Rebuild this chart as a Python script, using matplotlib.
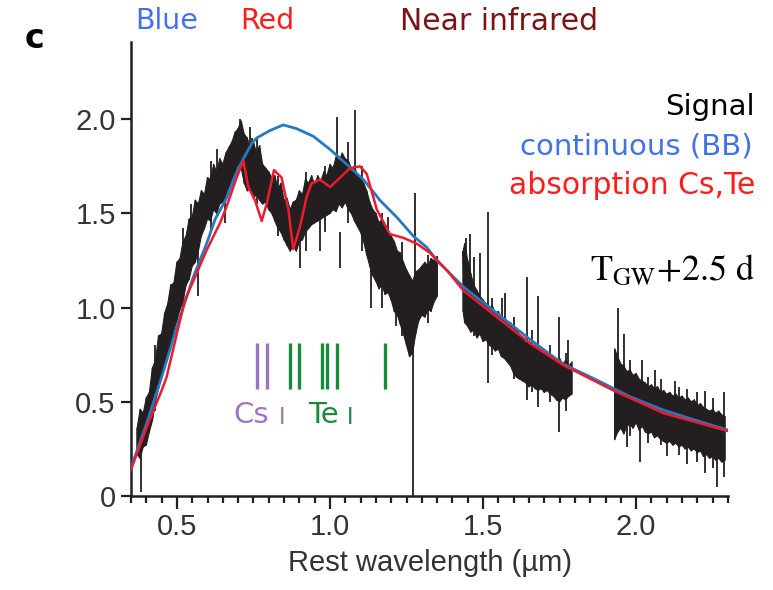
import numpy as np
import matplotlib
matplotlib.use('Agg')
import matplotlib.pyplot as plt

nan = np.nan

# ---------------- data ----------------
# Observed spectrum ("Signal"): lower / upper envelope of the noisy trace
sig_wl = [0.37, 0.38, 0.39, 0.40, 0.41, 0.42, 0.43, 0.44, 0.45, 0.46,
          0.47, 0.48, 0.49, 0.50, 0.51, 0.52, 0.53, 0.54, 0.55, 0.56,
          0.57, 0.58, 0.59, 0.60, 0.61, 0.62, 0.63, 0.64, 0.65, 0.66,
          0.67, 0.68, 0.69, 0.70, 0.71, 0.72, 0.73, 0.74, 0.75, 0.76,
          0.77, 0.78, 0.79, 0.80, 0.81, 0.82, 0.83, 0.84, 0.85, 0.86,
          0.87, 0.88, 0.89, 0.90, 0.91, 0.92, 0.93, 0.94, 0.95, 0.96,
          0.97, 0.98, 0.99, 1.00, 1.01, 1.02, 1.03, 1.04, 1.05, 1.06,
          1.07, 1.08, 1.09, 1.10, 1.11, 1.12, 1.13, 1.14, 1.15, 1.16,
          1.17, 1.18, 1.19, 1.20, 1.21, 1.22, 1.23, 1.24, 1.25, 1.26,
          1.27, 1.28, 1.29, 1.30, 1.31, 1.32, 1.33, 1.34, 1.35,
          1.39,
          1.435, 1.44, 1.45, 1.46, 1.47, 1.48, 1.49, 1.50, 1.51, 1.52,
          1.53, 1.54, 1.55, 1.56, 1.57, 1.58, 1.59, 1.60, 1.61, 1.62,
          1.63, 1.64, 1.65, 1.66, 1.67, 1.68, 1.69, 1.70, 1.71, 1.72,
          1.73, 1.74, 1.75, 1.76, 1.77, 1.78, 1.79,
          1.86,
          1.93, 1.94, 1.95, 1.96, 1.97, 1.98, 1.99, 2.00, 2.01, 2.02,
          2.03, 2.04, 2.05, 2.06, 2.07, 2.08, 2.09, 2.10, 2.11, 2.12,
          2.13, 2.14, 2.15, 2.16, 2.17, 2.18, 2.19, 2.20, 2.21, 2.22,
          2.23, 2.24, 2.25, 2.26, 2.27, 2.28, 2.29]
sig_lo = [0.22, 0.20, 0.26, 0.27, 0.34, 0.40, 0.50, 0.57, 0.64, 0.68,
          0.77, 0.80, 0.88, 0.93, 0.99, 1.03, 1.12, 1.15, 1.22, 1.24,
          1.30, 1.38, 1.42, 1.47, 1.46, 1.52, 1.50, 1.55, 1.56, 1.60,
          1.64, 1.68, 1.72, 1.76, 1.74, 1.66, 1.62, 1.63, 1.58, 1.60,
          1.57, 1.55, 1.56, 1.52, 1.50, 1.46, 1.42, 1.40, 1.36, 1.33,
          1.30, 1.33, 1.30, 1.35, 1.36, 1.40, 1.42, 1.44, 1.45, 1.46,
          1.47, 1.48, 1.49, 1.50, 1.52, 1.51, 1.55, 1.53, 1.56, 1.52,
          1.50, 1.46, 1.43, 1.40, 1.35, 1.28, 1.22, 1.17, 1.14, 1.10,
          1.12, 1.07, 1.08, 1.04, 0.98, 0.96, 0.91, 0.86, 0.80, 0.74,
          0.76, 0.86, 0.93, 0.96, 0.95, 0.99, 0.98, 1.03, 1.06,
          nan,
          0.98, 0.92, 0.90, 0.87, 0.88, 0.84, 0.86, 0.82, 0.83, 0.80,
          0.79, 0.77, 0.78, 0.74, 0.73, 0.71, 0.69, 0.65, 0.63, 0.62,
          0.61, 0.60, 0.58, 0.59, 0.57, 0.56, 0.57, 0.55, 0.56, 0.54,
          0.53, 0.51, 0.50, 0.52, 0.51, 0.53, 0.54,
          nan,
          0.30, 0.34, 0.36, 0.33, 0.37, 0.38, 0.36, 0.39, 0.35, 0.37,
          0.34, 0.33, 0.34, 0.31, 0.32, 0.30, 0.29, 0.28, 0.29, 0.27,
          0.28, 0.26, 0.27, 0.25, 0.26, 0.24, 0.25, 0.23, 0.24, 0.21,
          0.22, 0.20, 0.21, 0.19, 0.20, 0.18, 0.19]
sig_hi = [0.36, 0.46, 0.44, 0.52, 0.55, 0.68, 0.72, 0.85, 0.86, 0.97,
          1.02, 1.12, 1.13, 1.24, 1.26, 1.35, 1.38, 1.47, 1.48, 1.57,
          1.55, 1.62, 1.60, 1.69, 1.68, 1.76, 1.72, 1.79, 1.76, 1.82,
          1.85, 1.88, 1.93, 1.95, 1.99, 1.92, 1.90, 1.84, 1.88, 1.82,
          1.86, 1.76, 1.74, 1.72, 1.69, 1.70, 1.63, 1.66, 1.57, 1.58,
          1.52, 1.56, 1.57, 1.62, 1.60, 1.68, 1.66, 1.70, 1.65, 1.70,
          1.67, 1.72, 1.70, 1.76, 1.74, 1.80, 1.78, 1.82, 1.79, 1.78,
          1.74, 1.75, 1.70, 1.69, 1.66, 1.62, 1.56, 1.52, 1.50, 1.45,
          1.47, 1.42, 1.40, 1.38, 1.35, 1.30, 1.29, 1.24, 1.20, 1.17,
          1.14, 1.19, 1.20, 1.22, 1.24, 1.22, 1.26, 1.25, 1.27,
          nan,
          1.30, 1.34, 1.25, 1.18, 1.12, 1.09, 1.06, 1.04, 1.02, 1.00,
          1.01, 0.97, 0.98, 0.94, 0.95, 0.91, 0.92, 0.88, 0.89, 0.85,
          0.84, 0.81, 0.82, 0.79, 0.80, 0.77, 0.78, 0.75, 0.76, 0.73,
          0.74, 0.71, 0.73, 0.70, 0.72, 0.69, 0.71,
          nan,
          0.78, 0.74, 0.70, 0.69, 0.66, 0.67, 0.64, 0.65, 0.62, 0.61,
          0.60, 0.58, 0.59, 0.57, 0.58, 0.55, 0.56, 0.54, 0.55, 0.53,
          0.54, 0.52, 0.53, 0.51, 0.52, 0.50, 0.51, 0.48, 0.49, 0.47,
          0.46, 0.45, 0.46, 0.44, 0.45, 0.43, 0.42]

# Isolated spikes of the noisy spectrum (wavelength, bottom, top)
spike_wl = [0.382, 0.430, 0.520, 0.545, 0.570, 0.610, 0.630, 0.657, 0.706, 0.740,
            0.745, 0.760, 0.830, 0.902, 0.920, 0.967, 0.985, 1.022, 1.033, 1.060,
            1.082, 1.105, 1.135, 1.170, 1.190, 1.215, 1.235, 1.272, 1.277, 1.320,
            1.443, 1.456, 1.470, 1.490, 1.517, 1.530, 1.561, 1.573, 1.600, 1.645,
            1.660, 1.681, 1.720, 1.748, 1.770, 1.777, 1.942, 1.959, 1.970, 1.980,
            2.013, 2.018, 2.040, 2.062, 2.080, 2.100, 2.127, 2.140, 2.166, 2.200,
            2.225, 2.250, 2.264, 2.288]
spike_lo = [0.02, 0.45, 1.00, 1.30, 1.06, 1.40, 1.60, 1.45, 1.85, 1.75,
            1.70, 1.55, 1.38, 1.21, 1.30, 1.30, 1.40, 1.60, 1.21, 1.45,
            1.60, 1.30, 1.00, 1.00, 1.30, 0.90, 0.85, 0.00, 1.10, 0.92,
            1.00, 1.00, 0.85, 1.00, 0.60, 0.75, 0.85, 0.85, 0.62, 0.51,
            0.55, 0.47, 0.50, 0.34, 0.45, 0.60, 0.60, 0.60, 0.26, 0.32,
            0.18, 0.55, 0.28, 0.50, 0.27, 0.21, 0.45, 0.22, 0.17, 0.18,
            0.12, 0.15, 0.05, 0.10]
spike_hi = [0.40, 0.80, 1.42, 1.55, 1.40, 1.78, 1.84, 1.70, 2.00, 1.96,
            1.90, 1.90, 1.70, 1.40, 1.72, 1.50, 1.75, 2.01, 1.40, 1.88,
            2.05, 1.75, 1.30, 1.50, 1.48, 1.10, 1.35, 1.00, 1.61, 1.28,
            1.37, 1.39, 1.27, 1.29, 1.51, 1.05, 1.05, 1.08, 0.95, 1.16,
            0.88, 1.06, 0.80, 0.95, 0.76, 0.83, 1.00, 0.86, 0.50, 0.72,
            0.45, 0.72, 0.63, 0.67, 0.62, 0.40, 0.61, 0.58, 0.57, 0.55,
            0.56, 0.52, 0.30, 0.55]

# Continuous black-body model
bb_wl = [0.350, 0.400, 0.450, 0.500, 0.553, 0.597, 0.625, 0.662, 0.690, 0.717,
         0.744, 0.760, 0.804, 0.847, 0.891, 0.945, 1.000, 1.055, 1.109, 1.163,
         1.218, 1.272, 1.316, 1.349, 1.436, 1.545, 1.654, 1.762, 1.872, 1.980,
         2.089, 2.198, 2.300]
bb_flux = [0.15, 0.38, 0.63, 0.90, 1.16, 1.34, 1.47, 1.58, 1.70, 1.79,
           1.87, 1.90, 1.94, 1.97, 1.95, 1.91, 1.84, 1.76, 1.68, 1.57,
           1.48, 1.38, 1.32, 1.25, 1.11, 0.97, 0.83, 0.70, 0.615, 0.527,
           0.456, 0.40, 0.35]

# Model with Cs, Te absorption
abs_wl = [0.350, 0.400, 0.450, 0.466, 0.526, 0.564, 0.597, 0.641, 0.662, 0.695,
          0.717, 0.733, 0.755, 0.777, 0.793, 0.817, 0.842, 0.864, 0.880, 0.902,
          0.924, 0.940, 0.967, 1.000, 1.033, 1.065, 1.098, 1.120, 1.153, 1.196,
          1.240, 1.283, 1.327, 1.381, 1.436, 1.545, 1.654, 1.762, 1.926, 2.089,
          2.300]
abs_flux = [0.14, 0.36, 0.56, 0.63, 1.04, 1.18, 1.305, 1.45, 1.535, 1.69,
            1.78, 1.64, 1.57, 1.46, 1.55, 1.73, 1.69, 1.52, 1.31, 1.43,
            1.59, 1.66, 1.68, 1.64, 1.69, 1.74, 1.75, 1.71, 1.52, 1.39,
            1.37, 1.34, 1.29, 1.20, 1.09, 0.95, 0.81, 0.695, 0.56, 0.44,
            0.345]

# Line identifications
cs_lines = [0.760, 0.795]
te_lines = [0.869, 0.900, 0.973, 0.989, 1.024, 1.180]

xticks = [0.5, 1.0, 1.5, 2.0]
xtick_labels = ['0.5', '1.0', '1.5', '2.0']
yticks = [0, 0.5, 1.0, 1.5, 2.0]
ytick_labels = ['0', '0.5', '1.0', '1.5', '2.0']

# ---------------- styles ----------------
BLACK = '#231f20'
BB_BLUE = '#2878bd'
ABS_RED = '#ec1c2c'
TXT_BLUE = '#4272e8'
TXT_RED = '#ff1c1c'
TXT_DARKRED = '#7d1414'
CS_PURPLE = '#9d74c4'
TE_GREEN = '#178a3c'

plt.rcParams['font.family'] = ['Liberation Sans', 'DejaVu Sans']
plt.rcParams['mathtext.fontset'] = 'stix'

fig = plt.figure(figsize=(7.73, 5.90), dpi=100)
ax = fig.add_axes([131 / 773, 94 / 590, 597 / 773, 454 / 590])

sw = np.array(sig_wl)
slo = np.array(sig_lo)
shi = np.array(sig_hi)
ax.fill_between(sw, slo, shi, color=BLACK, lw=0.8, edgecolor=BLACK, zorder=2)
# zig-zag strokes between the envelope values to give the noisy texture
zig_x = np.repeat(sw, 2)
zig_y = np.column_stack([slo, shi]).ravel()
ax.plot(zig_x, zig_y, color=BLACK, lw=1.0, zorder=2)
ax.vlines(spike_wl, spike_lo, spike_hi, color=BLACK, lw=1.3, zorder=2)

ax.plot(bb_wl, bb_flux, color=BB_BLUE, lw=2.0, zorder=3)
ax.plot(abs_wl, abs_flux, color=ABS_RED, lw=1.8, zorder=4)

ax.vlines(cs_lines, 0.566, 0.813, color=CS_PURPLE, lw=2.4, zorder=3)
ax.vlines(te_lines, 0.566, 0.813, color=TE_GREEN, lw=2.4, zorder=3)

ax.text(0.742, 0.43, 'Cs', color=CS_PURPLE, fontsize=21, ha='center', va='center',
        family='DejaVu Sans')
ax.text(0.845, 0.415, 'I', color=CS_PURPLE, fontsize=17, ha='center', va='center',
        family='Liberation Sans')
ax.text(0.977, 0.43, 'Te', color=TE_GREEN, fontsize=21, ha='center', va='center',
        family='DejaVu Sans')
ax.text(1.067, 0.415, 'I', color=TE_GREEN, fontsize=17, ha='center', va='center',
        family='Liberation Sans')

ax.set_xlim(0.35, 2.30)
ax.set_ylim(0, 2.41)
ax.set_xticks(xticks)
ax.set_xticklabels(xtick_labels)
ax.set_xticks(np.arange(0.35, 2.301, 0.05), minor=True)
ax.set_yticks(yticks)
ax.set_yticklabels(ytick_labels)

for s in ['top', 'right']:
    ax.spines[s].set_visible(False)
for s in ['left', 'bottom']:
    ax.spines[s].set_linewidth(1.8)
    ax.spines[s].set_color(BLACK)

ax.tick_params(axis='both', which='major', direction='out', width=1.6, colors=BLACK,
               labelsize=21, labelcolor='#333333')
ax.tick_params(axis='x', which='major', length=9, pad=3)
ax.tick_params(axis='x', which='minor', length=5, width=1.6, direction='out', colors=BLACK)
ax.tick_params(axis='y', which='major', length=7, pad=4)

ax.set_xlabel('Rest wavelength (\u00b5m)', fontsize=21, color='#333333', labelpad=6)

# headline labels
fig.text(35 / 773, 1 - 38 / 590, 'c', fontsize=24, fontweight='heavy', color='black',
         ha='center', va='center', family='DejaVu Sans')
fig.text(135 / 773, 1 - 21 / 590, 'Blue', fontsize=20.5, color=TXT_BLUE, ha='left',
         va='center', family='DejaVu Sans')
fig.text(240 / 773, 1 - 21 / 590, 'Red', fontsize=20.5, color=TXT_RED, ha='left',
         va='center', family='DejaVu Sans')
fig.text(400 / 773, 1 - 21 / 590, 'Near infrared', fontsize=21.5, color=TXT_DARKRED,
         ha='left', va='center', family='DejaVu Sans')

fig.text(755 / 773, 1 - 107 / 590, 'Signal', fontsize=21, color='black', ha='right',
         va='center', family='DejaVu Sans')
fig.text(753 / 773, 1 - 147 / 590, 'continuous (BB)', fontsize=21, color=TXT_BLUE,
         ha='right', va='center', family='DejaVu Sans')
fig.text(755 / 773, 1 - 186 / 590, 'absorption Cs,Te', fontsize=21.5, color=TXT_RED,
         ha='right', va='center', family='DejaVu Sans')
fig.text(755 / 773, 1 - 270 / 590, r'$\mathrm{T_{GW}{+}2.5\ d}$', fontsize=26,
         color='black', ha='right', va='center')

fig.savefig('out.png', dpi=100, facecolor='white')
